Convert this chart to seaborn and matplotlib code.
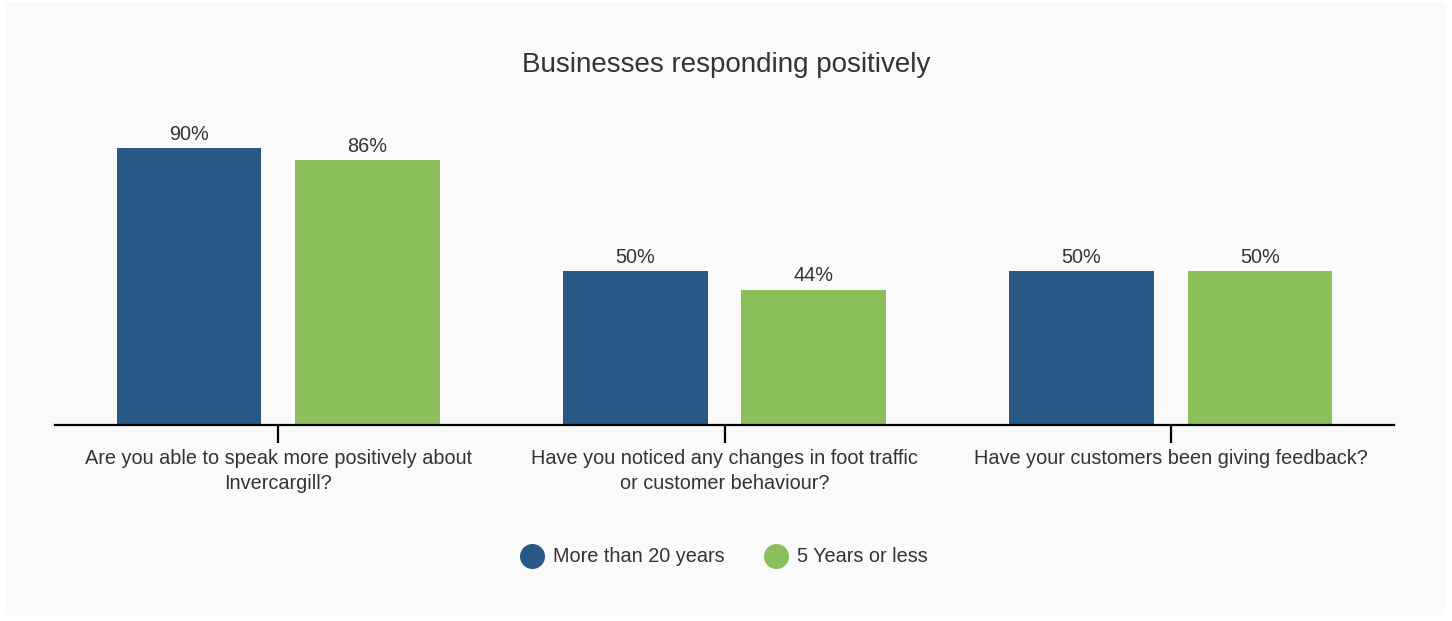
import matplotlib
matplotlib.use("Agg")
import matplotlib.pyplot as plt
from matplotlib.lines import Line2D
from matplotlib.patches import Rectangle
import seaborn as sns
import pandas as pd

questions = [
    "Are you able to speak more positively about\nInvercargill?",
    "Have you noticed any changes in foot traffic\nor customer behaviour?",
    "Have your customers been giving feedback?",
]
groups = ["More than 20 years", "5 Years or less"]
more_than_20 = [90, 50, 50]
five_or_less = [86, 44, 50]
colors = ["#275886", "#8bbf5c"]

df = pd.DataFrame({
    "question": questions * 2,
    "group": [groups[0]] * 3 + [groups[1]] * 3,
    "value": more_than_20 + five_or_less,
})

sns.set_theme(style="white")
plt.rcParams["font.family"] = ["Liberation Sans", "DejaVu Sans"]
text_color = "#333333"
small = 14.3

fig = plt.figure(figsize=(14.52, 6.21), dpi=100, facecolor="white")
fig.patches.append(Rectangle((5 / 1452, 6 / 621), 1440 / 1452, 613 / 621,
                             transform=fig.transFigure, facecolor="#fafafa",
                             edgecolor="none", zorder=-10))

ax = fig.add_axes([55 / 1452, 196 / 621, 1339 / 1452, 315 / 621])
ax.set_facecolor("none")
sns.barplot(data=df, x="question", y="value", hue="group", order=questions,
            hue_order=groups, palette=colors, width=0.8, gap=0.19,
            saturation=1, linewidth=0, ax=ax, legend=False)

ax.set_xlim(-0.5, 2.5)
ax.set_ylim(0, 315 / 3.078)
for c in ax.containers:
    ax.bar_label(c, labels=[f"{v:.0f}%" for v in c.datavalues], padding=3,
                 fontsize=small, color=text_color)

for s in ["top", "right", "left"]:
    ax.spines[s].set_visible(False)
ax.spines["bottom"].set_color("black")
ax.spines["bottom"].set_linewidth(1.6)
ax.set_yticks([])
ax.tick_params(axis="x", bottom=True, length=13, width=1.6, color="black",
               labelsize=small, labelcolor=text_color, pad=4)
for lbl in ax.get_xticklabels():
    lbl.set_linespacing(1.45)
ax.set_xlabel("")
ax.set_ylabel("")

fig.text(0.5, 1 - 65 / 621, "Businesses responding positively", ha="center",
         va="center", fontsize=20, color=text_color)

handles = [Line2D([], [], marker="o", linestyle="none", markersize=17,
                  markerfacecolor=c, markeredgecolor=c) for c in colors]
fig.legend(handles, groups, loc="center",
           bbox_to_anchor=(0.5 - 6 / 1452, 1 - 557 / 621),
           ncol=2, frameon=False, fontsize=small, handletextpad=0.05,
           columnspacing=1.6, labelcolor=text_color)

fig.savefig("out.png", dpi=100, facecolor=fig.get_facecolor())
